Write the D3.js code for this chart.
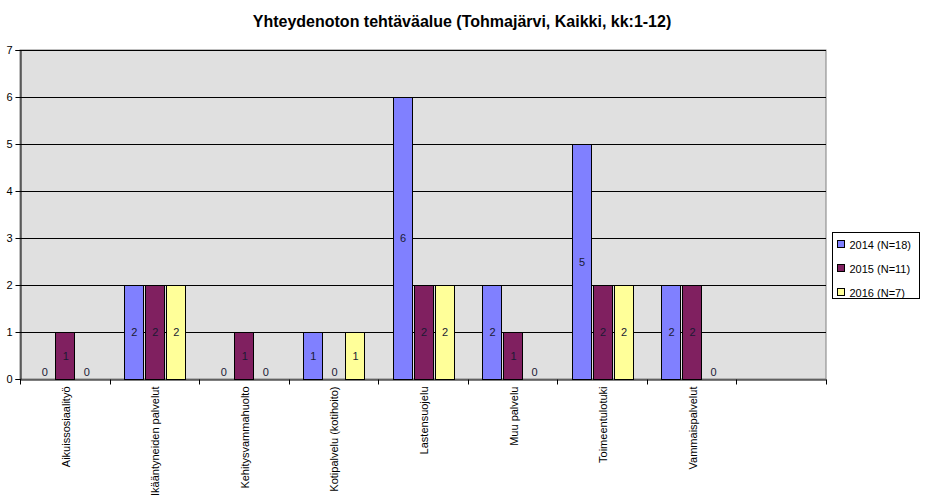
<!DOCTYPE html>
<html><head><meta charset="utf-8">
<script src="https://cdn.jsdelivr.net/npm/d3@7"></script>
<style>body{margin:0;background:#fff;font-family:"Liberation Sans",Arial,sans-serif;}</style>
</head><body><svg id="c" width="925" height="500"></svg>
<script>
const title = "Yhteydenoton tehtäväalue (Tohmajärvi, Kaikki, kk:1-12)";
const categories = ["Aikuissosiaalityö","Ikääntyneiden palvelut","Kehitysvammahuolto","Kotipalvelu (kotihoito)","Lastensuojelu","Muu palvelu","Toimeentulotuki","Vammaispalvelut",""];
const seriesNames = ["2014 (N=18)","2015 (N=11)","2016 (N=7)"];
const values2014 = [0,2,0,1,6,2,5,2];
const values2015 = [1,2,1,0,2,1,2,2];
const values2016 = [0,2,0,1,2,0,2,0];
const yTicks = [0,1,2,3,4,5,6,7];
const colors = ["#8080ff","#802060","#ffff99"];

const svg = d3.select("#c");
const m = {l:20, r:826, t:50, b:379};
const catKeys = categories.map((c,i)=>i);
const x = d3.scaleBand().domain(catKeys).range([m.l, m.r]).padding(0);
const x1 = d3.scaleBand().domain([0,1,2]).range([14.3, x.bandwidth()-14.3]).paddingInner(0.1);
const y = d3.scaleLinear().domain([0,7]).range([m.b, m.t]);

svg.append("text").attr("x",462).attr("y",27).attr("text-anchor","middle")
  .style("font-weight","bold").style("font-size","16px").text(title);

svg.append("rect").attr("x",m.l).attr("y",m.t).attr("width",m.r-m.l).attr("height",m.b-m.t)
  .attr("fill","#e0e0e0").attr("stroke","#808080").attr("stroke-width",1);

svg.append("g").selectAll("line").data(yTicks.filter(d=>d>0)).join("line")
  .attr("x1",m.l).attr("x2",m.r).attr("y1",d=>Math.round(y(d))+0.5).attr("y2",d=>Math.round(y(d))+0.5)
  .attr("stroke","#000");

const yAxis = svg.append("g").attr("transform",`translate(${m.l+0.5},0)`)
  .call(d3.axisLeft(y).tickValues(yTicks).tickSize(5).tickPadding(3).tickFormat(d3.format("d")));
yAxis.select(".domain").attr("stroke","#000");
yAxis.selectAll("text").style("font-size","11px").style("font-family","Liberation Sans, Arial");

const xAxis = svg.append("g").attr("transform",`translate(0,${m.b+0.5})`)
  .call(d3.axisBottom(x).tickValues([]).tickSize(0));
xAxis.select(".domain").attr("stroke","#000");
const tickPos = catKeys.map(k=>x(k)).concat([m.r]);
xAxis.selectAll("line.t").data(tickPos).join("line").attr("class","t")
  .attr("x1",d=>Math.round(d)+0.5).attr("x2",d=>Math.round(d)+0.5).attr("y1",0).attr("y2",5).attr("stroke","#000");
xAxis.selectAll("text.lab").data(categories).join("text").attr("class","lab")
  .attr("transform",(d,i)=>`translate(${x(i)+x.bandwidth()/2+5},7) rotate(-90)`)
  .attr("text-anchor","end").style("font-size","11px").attr("fill","#000").text(d=>d);

const all = [values2014, values2015, values2016];
const bars = [];
all.forEach((arr,s)=>arr.forEach((v,i)=>bars.push({s,i,v})));

svg.append("g").selectAll("rect").data(bars.filter(d=>d.v>0)).join("rect")
  .attr("x",d=>Math.round(x(d.i)+x1(d.s))+0.5).attr("width",Math.round(x1.bandwidth()))
  .attr("y",d=>Math.round(y(d.v))+0.5).attr("height",d=>Math.round(y(0))-Math.round(y(d.v)))
  .attr("fill",d=>colors[d.s]).attr("stroke","#000").attr("stroke-width",1);

svg.append("g").selectAll("text").data(bars).join("text")
  .attr("x",d=>x(d.i)+x1(d.s)+x1.bandwidth()/2+1)
  .attr("y",d=>d.v>0 ? (y(d.v)+y(0))/2+4 : y(0)-3)
  .attr("text-anchor","middle").style("font-size","11px").attr("fill","#1a1a33").text(d=>d.v);

const lg = svg.append("g").attr("transform","translate(832.5,232.5)");
lg.append("rect").attr("width",87).attr("height",66).attr("fill","#fff").attr("stroke","#000");
seriesNames.forEach((n,i)=>{
  lg.append("rect").attr("x",5).attr("y",8+i*24).attr("width",7).attr("height",7)
    .attr("fill",colors[i]).attr("stroke","#000");
  lg.append("text").attr("x",17).attr("y",16+i*24).style("font-size","11px").text(n);
});
</script></body></html>
